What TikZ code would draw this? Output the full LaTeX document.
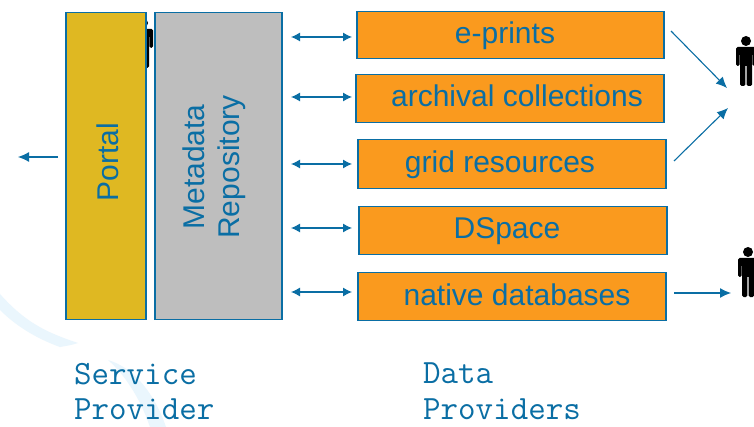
\documentclass[tikz,border=0pt]{standalone}
\usepackage{fontspec}
\setmainfont{Liberation Sans}
\usetikzlibrary{arrows.meta}
\definecolor{bl}{HTML}{0A6EA4}
\definecolor{orbox}{HTML}{FA9A1E}
\definecolor{goldbox}{HTML}{DFB822}
\definecolor{greybox}{HTML}{BEBEBE}
\definecolor{swoosh}{HTML}{EAF6FD}
\tikzset{
  x=1pt,y=-1pt,
  dpbox/.style={draw=bl,line width=1.4pt,fill=orbox,inner sep=0pt},
  dptext/.style={text=bl,font=\fontsize{30}{30}\selectfont,inner sep=0pt},
  spbox/.style={draw=bl,line width=1.4pt,text=bl,inner sep=0pt},
  sidetext/.style={text=bl,font=\fontsize{30}{35}\selectfont,rotate=90,align=center},
  arr/.style={draw=bl,line width=1.1pt,-{Latex[length=11pt,width=10pt]}},
  darr/.style={draw=bl,line width=1.1pt,{Latex[length=9pt,width=9pt]}-{Latex[length=9pt,width=9pt]}},
  lab/.style={text=bl,font=\ttfamily\fontsize{34}{35.5}\selectfont,align=left,anchor=north west,inner sep=0pt},
}
\newcommand{\person}[3]{% x, y top of head, scale
  \begin{scope}[shift={(#1,#2)},yscale=#3,xscale=#3]
    \fill[black] (0,5) circle (5);
    \fill[black,rounded corners=1.5pt] (-10,11) rectangle (10,19)
      (-10,12) rectangle (-6.5,30) (6.5,12) rectangle (10,30)
      (-6,11) rectangle (6,30) (-6,25) rectangle (-0.6,50) (0.6,25) rectangle (6,50);
  \end{scope}}
\begin{document}
\begin{tikzpicture}
\useasboundingbox (0,0) rectangle (754,427);
\fill[white] (0,0) rectangle (754,427);
% faint background swoosh
\fill[swoosh] (0,294) .. controls (25,322) and (45,332) .. (78,343)
   .. controls (72,345) and (66,346) .. (60,347)
   .. controls (35,338) and (15,325) .. (0,310) -- cycle;
\fill[swoosh] (108,360) .. controls (135,368) and (155,395) .. (166,427)
   -- (150,427) .. controls (140,398) and (125,375) .. (108,360) -- cycle;
% persons
\person{143}{18}{1}
\person{746}{36}{1}
\person{748}{247}{1}
% service provider
\node[spbox,fill=goldbox,minimum width=80pt,minimum height=307pt] (portal) at (106,166) {};
\node[spbox,fill=greybox,minimum width=127pt,minimum height=307pt] (repo) at (218.5,166) {};
\node[sidetext] (portalt) at (108,162) {Portal};
\node[sidetext] (repot) at (214,167) {Metadata\\Repository};
% data providers
\node[dpbox,minimum width=307pt,minimum height=47pt] (eprints) at (510.5,35) {};
\node[dptext] (eprintst) at (505,36) {e-prints};
\node[dpbox,minimum width=308pt,minimum height=48pt] (archival) at (510,98.5) {};
\node[dptext] (archivalt) at (517,96) {archival collections};
\node[dpbox,minimum width=308pt,minimum height=49pt] (grid) at (512,164) {};
\node[dptext] (gridt) at (500,165) {grid resources};
\node[dpbox,minimum width=308pt,minimum height=48pt] (dspace) at (513,230.5) {};
\node[dptext] (dspacet) at (507,231) {DSpace};
\node[dpbox,minimum width=308pt,minimum height=48pt] (native) at (512,296.5) {};
\node[dptext] (nativet) at (517,295) {native databases};
% connector ends
\coordinate (pa) at (58,157); \coordinate (pb) at (18,157);
\foreach \n/\y in {a/37,b/97,c/164,d/228,e/292}{
  \coordinate (l\n) at (291,\y); \coordinate (r\n) at (352,\y);
  \draw[darr] (l\n) -- (r\n);
}
\draw[arr] (pa) -- (pb);
\coordinate (e1) at (671,31); \coordinate (u1) at (727,88);
\coordinate (g1) at (674,161); \coordinate (u2) at (728,108);
\coordinate (n1) at (674,293); \coordinate (u3) at (731,293);
\draw[arr] (e1) -- (u1);
\draw[arr] (g1) -- (u2);
\draw[arr] (n1) -- (u3);
% labels
\node[lab] (sp) at (74,363) {Service\\Provider};
\node[lab] (dp) at (423,363) {Data\\Providers};
\end{tikzpicture}
\end{document}
